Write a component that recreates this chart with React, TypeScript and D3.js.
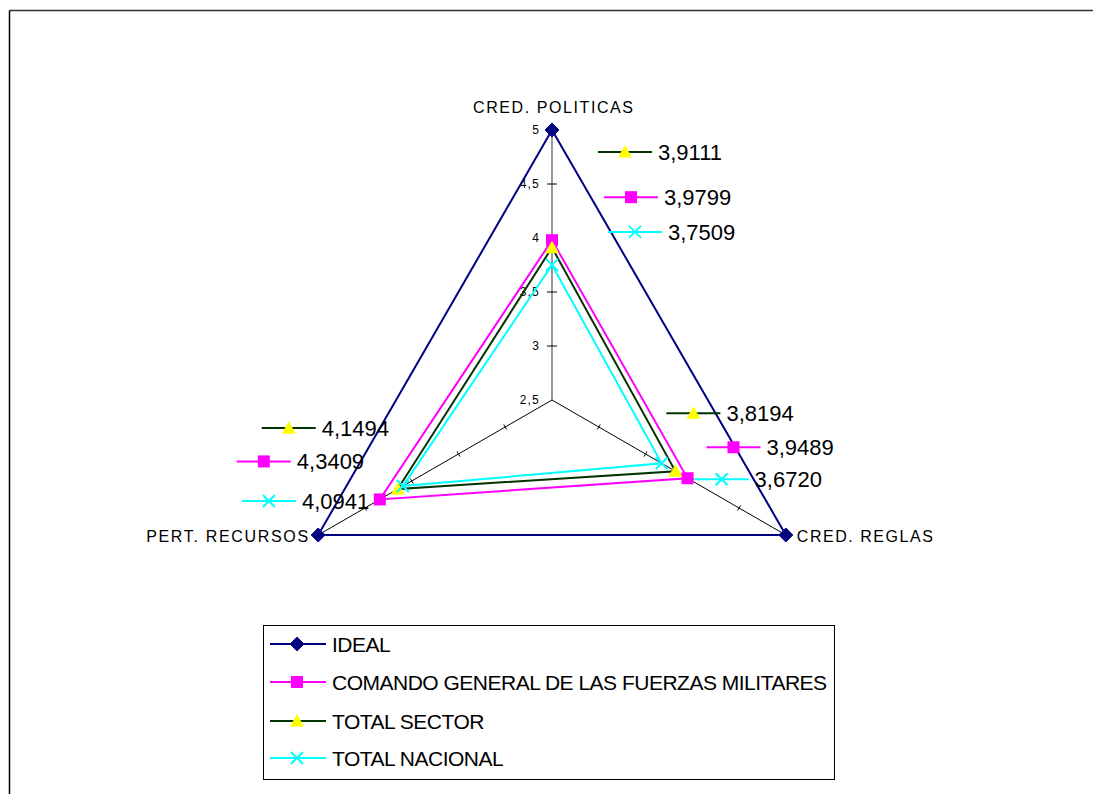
import React from 'react';
import * as d3 from 'd3';

// ---- Data ----
const axes = ['CRED. POLITICAS', 'CRED. REGLAS', 'PERT. RECURSOS'];
const seriesNames = [
  'IDEAL',
  'COMANDO GENERAL DE LAS FUERZAS MILITARES',
  'TOTAL SECTOR',
  'TOTAL NACIONAL',
];
const ideal = [5, 5, 5];
const comando = [3.9799, 3.9489, 4.3409];
const totalSector = [3.9111, 3.8194, 4.1494];
const totalNacional = [3.7509, 3.672, 4.0941];
const tickValues = [2.5, 3, 3.5, 4, 4.5, 5];
const tickLabels = ['2,5', '3', '3,5', '4', '4,5', '5'];

// ---- Layout / style ----
const W = 1093;
const H = 794;
const CX = 552;
const CY = 400;
const R = 270;
const FONT = "'Liberation Sans', Arial, sans-serif";

const styles = [
  { line: '#000080', marker: 'diamond', fill: '#000080' },
  { line: '#FF00FF', marker: 'square', fill: '#FF00FF' },
  { line: '#003300', marker: 'triangle', fill: '#FFFF00' },
  { line: '#00FFFF', marker: 'x', fill: '#00FFFF' },
];

// data-label key offsets (relative to point) per series (1..3) per axis
const labelOffsets: Record<number, [number, number][]> = {
  1: [[79, -43], [46, -31], [-116, -38]],
  2: [[73, -95.6], [18, -58], [-109, -61]],
  3: [[83, -33], [60, 16], [-134, 15]],
};

const axisLabelPos = [
  { dx: 1, dy: -23, anchor: 'middle', len: 160 },
  { dx: 11, dy: 1, anchor: 'start', len: 136 },
  { dx: -10, dy: 1, anchor: 'end', len: 162 },
];

const rScale = d3.scaleLinear().domain([2.5, 5]).range([0, R]);
const angle = (i: number) => ((-90 + 120 * i) * Math.PI) / 180;
const pt = (i: number, v: number): [number, number] => [
  CX + rScale(v) * Math.cos(angle(i)),
  CY + rScale(v) * Math.sin(angle(i)),
];

function Marker({ type, x, y, fill, stroke }: any) {
  if (type === 'diamond') {
    const s = 7;
    return <path d={`M${x},${y - s}L${x + s},${y}L${x},${y + s}L${x - s},${y}Z`} fill={fill} stroke={stroke} strokeWidth={1} />;
  }
  if (type === 'square') {
    const s = 6;
    return <rect x={x - s} y={y - s} width={2 * s} height={2 * s} fill={fill} />;
  }
  if (type === 'triangle') {
    const s = 7;
    return <path d={`M${x},${y - s}L${x + s},${y + s * 0.8}L${x - s},${y + s * 0.8}Z`} fill={fill} />;
  }
  const s = 6;
  return (
    <path d={`M${x - s},${y - s}L${x + s},${y + s}M${x + s},${y - s}L${x - s},${y + s}`} stroke={fill} strokeWidth={2} />
  );
}

export default function App() {
  const allSeries = [ideal, comando, totalSector, totalNacional];
  const line = d3.line<number>().x((v, i) => pt(i, v)[0]).y((v, i) => pt(i, v)[1]).curve(d3.curveLinearClosed);

  const legendX = 263;
  const legendY = 625;
  const legendRows = [644, 682, 721, 758];

  return (
    <svg width={W} height={H} style={{ position: 'absolute', left: 0, top: 0, background: '#fff' }} fontFamily={FONT}>
      <rect x={0} y={0} width={W} height={H} fill="#fff" />
      {/* outer chart border */}
      <line x1={9.5} y1={10.5} x2={W} y2={10.5} stroke="#333" strokeWidth={1.5} />
      <line x1={9.5} y1={10.5} x2={9.5} y2={H} stroke="#000" strokeWidth={1.5} />

      {/* category axes */}
      {axes.map((a, i) => {
        const [x2, y2] = pt(i, 5);
        const isValue = i === 0;
        return (
          <g key={a}>
            <line x1={CX} y1={CY} x2={x2} y2={y2} stroke={isValue ? '#808080' : '#000'} strokeWidth={isValue ? 1.6 : 1} />
            {tickValues.slice(1, -1).map((t) => {
              const [tx, ty] = pt(i, t);
              const px = -Math.sin(angle(i));
              const py = Math.cos(angle(i));
              const s = isValue ? 5 : 3;
              return (
                <line key={t} x1={tx - px * s} y1={ty - py * s} x2={tx + px * s} y2={ty + py * s} stroke="#000" strokeWidth={1} />
              );
            })}
          </g>
        );
      })}

      {/* value tick labels */}
      {tickValues.map((t, k) => {
        const [, ty] = pt(0, t);
        return (
          <text key={t} x={540} y={ty} dy="0.35em" textAnchor="end" fontSize={12} letterSpacing={1.2} fill="#000">
            {tickLabels[k]}
          </text>
        );
      })}

      {/* axis labels */}
      {axes.map((a, i) => {
        const [vx, vy] = pt(i, 5);
        const p = axisLabelPos[i];
        return (
          <text key={a} x={vx + p.dx} y={vy + p.dy} dy="0.35em" textAnchor={p.anchor as any} fontSize={16} textLength={p.len} lengthAdjust="spacing" fill="#000">
            {a}
          </text>
        );
      })}

      {/* series */}
      {allSeries.map((s, si) => (
        <g key={si}>
          <path d={line(s) || ''} fill="none" stroke={styles[si].line} strokeWidth={2} />
          {s.map((v, i) => {
            const [x, y] = pt(i, v);
            return <Marker key={i} type={styles[si].marker} x={x} y={y} fill={styles[si].fill} stroke={styles[si].line} />;
          })}
        </g>
      ))}

      {/* data labels with legend keys */}
      {[1, 2, 3].map((si) =>
        allSeries[si].map((v, i) => {
          const [x, y] = pt(i, v);
          const [dx, dy] = labelOffsets[si][i];
          const kx = x + dx;
          const ky = y + dy;
          return (
            <g key={`${si}-${i}`}>
              <line x1={kx - 27} y1={ky} x2={kx + 27} y2={ky} stroke={styles[si].line} strokeWidth={2} />
              <Marker type={styles[si].marker} x={kx} y={ky} fill={styles[si].fill} stroke={styles[si].line} />
              <text x={kx + 33} y={ky} dy="0.36em" fontSize={22} fill="#000">
                {d3.format('.4f')(v).replace('.', ',')}
              </text>
            </g>
          );
        })
      )}

      {/* legend */}
      <rect x={legendX + 0.5} y={legendY + 0.5} width={571} height={154} fill="#fff" stroke="#000" strokeWidth={1} />
      {seriesNames.map((n, si) => {
        const y = legendRows[si];
        return (
          <g key={n}>
            <line x1={270} y1={y} x2={326} y2={y} stroke={styles[si].line} strokeWidth={2} />
            <Marker type={styles[si].marker} x={297} y={y} fill={styles[si].fill} stroke={styles[si].line} />
            <text x={332} y={y} dy="0.36em" fontSize={21} letterSpacing={-0.5} fill="#000">
              {n}
            </text>
          </g>
        );
      })}
    </svg>
  );
}
